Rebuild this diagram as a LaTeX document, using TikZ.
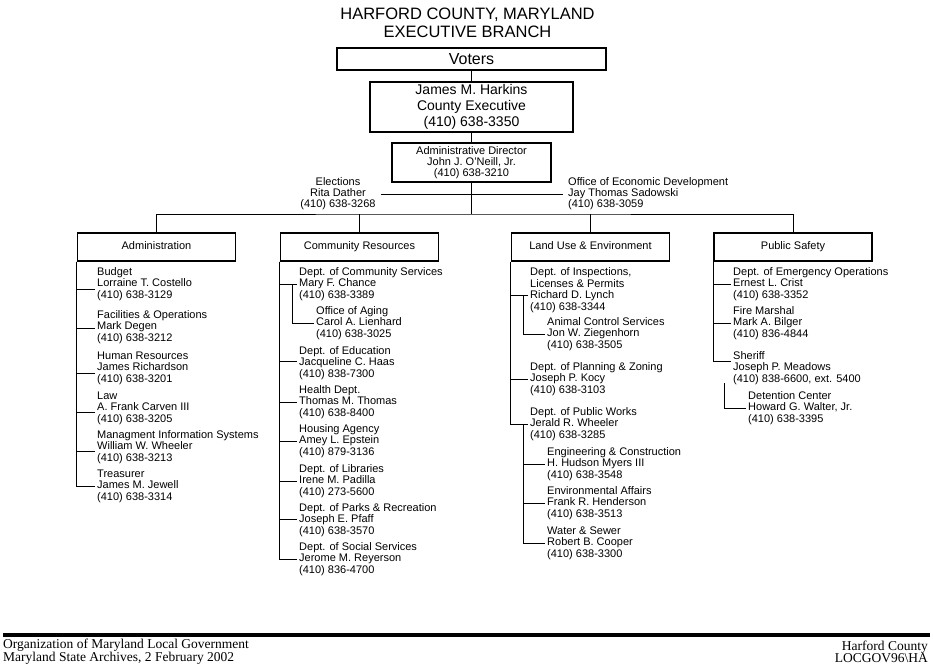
\documentclass[tikz,border=0pt]{standalone}
\usepackage{fontspec}
\setmainfont{Liberation Sans}
\newfontfamily\footfont{Liberation Serif}
\usetikzlibrary{positioning}

\begin{document}
\begin{tikzpicture}[
            x=1pt, y=-1pt,
            title/.style={align=center, font=\fontsize{16.5}{18}\selectfont},
            topbox/.style={draw, line width=1.6pt, minimum width=269pt, minimum height=22pt, inner sep=0pt, font=\fontsize{16}{18}\selectfont},
            execbox/.style={draw, line width=1.1pt, minimum width=203pt, minimum height=50pt, inner sep=0pt, align=center, font=\fontsize{14}{16}\selectfont},
            dirbox/.style={draw, line width=1.6pt, minimum width=159pt, minimum height=39pt, inner sep=0pt, align=center, font=\fontsize{11}{11}\selectfont},
            division/.style={draw, line width=1.6pt, minimum width=158pt, minimum height=28pt, inner sep=0pt, text height=8pt, text depth=2.5pt, font=\fontsize{11}{12}\selectfont},
            office/.style={inner sep=0pt, inner xsep=5pt, font=\fontsize{11}{11}\selectfont},
            entry/.style={anchor=west, align=left, inner sep=0pt, inner xsep=2pt, font=\fontsize{11}{11.5}\selectfont},
            footer/.style={inner sep=0pt, font=\footfont\fontsize{13.5}{12}\selectfont},
            link/.style={line width=0.8pt}
        ]
            \useasboundingbox (0,0) rectangle (933,668);

            % Title and top of the chart
            \node[title] (title) at (467.5,23) {HARFORD COUNTY, MARYLAND\\EXECUTIVE BRANCH};
            \node[topbox] (voters) at (471.5,59) {Voters};
            \node[execbox] (exec) at (471.5,107) {James M. Harkins\\County Executive\\(410) 638-3350};
            \node[dirbox] (director) at (471.5,162.5) {Administrative Director\\John J. O'Neill, Jr.\\(410) 638-3210};

            % Offices beside the director
            \node[office, align=center] (elections) at (338,194) {Elections\\Rita Dather\\(410) 638-3268};
            \node[office, align=left, anchor=west] (econdev) at (563,194) {Office of Economic Development\\Jay Thomas Sadowski\\(410) 638-3059};

            % Divisions
            \node[division] (admin) at (156.5,247) {Administration};
            \node[division] (community) at (359.5,247) {Community Resources};
            \node[division] (landuse) at (590.5,247) {Land Use \& Environment};
            \node[division] (safety) at (793,247) {Public Safety};
            \coordinate (bus) at (471.5,214);

            % Administration
            \node[entry] (budget) at (95,284) {Budget\\Lorraine T. Costello\\(410) 638-3129};
            \node[entry] (facilities) at (95,327) {Facilities \& Operations\\Mark Degen\\(410) 638-3212};
            \node[entry] (hr) at (95,368) {Human Resources\\James Richardson\\(410) 638-3201};
            \node[entry] (law) at (95,408) {Law\\A. Frank Carven III\\(410) 638-3205};
            \node[entry] (mis) at (95,447) {Managment Information Systems\\William W. Wheeler\\(410) 638-3213};
            \node[entry] (treasurer) at (95,486) {Treasurer\\James M. Jewell\\(410) 638-3314};

            % Community Resources
            \node[entry] (commsvc) at (297,284) {Dept. of Community Services\\Mary F. Chance\\(410) 638-3389};
            \node[entry] (aging) at (314,323) {Office of Aging\\Carol A. Lienhard\\(410) 638-3025};
            \node[entry] (education) at (297,363) {Dept. of Education\\Jacqueline C. Haas\\(410) 838-7300};
            \node[entry] (health) at (297,402) {Health Dept.\\Thomas M. Thomas\\(410) 638-8400};
            \node[entry] (housing) at (297,441) {Housing Agency\\Amey L. Epstein\\(410) 879-3136};
            \node[entry] (libraries) at (297,481) {Dept. of Libraries\\Irene M. Padilla\\(410) 273-5600};
            \node[entry] (parks) at (297,520) {Dept. of Parks \& Recreation\\Joseph E. Pfaff\\(410) 638-3570};
            \node[entry] (social) at (297,559) {Dept. of Social Services\\Jerome M. Reyerson\\(410) 836-4700};

            % Land Use & Environment
            \node[entry] (inspections) at (528,290) {Dept. of Inspections,\\Licenses \& Permits\\Richard D. Lynch\\(410) 638-3344};
            \node[entry] (animal) at (545,334) {Animal Control Services\\Jon W. Ziegenhorn\\(410) 638-3505};
            \node[entry] (planning) at (528,379) {Dept. of Planning \& Zoning\\Joseph P. Kocy\\(410) 638-3103};
            \node[entry] (works) at (528,424) {Dept. of Public Works\\Jerald R. Wheeler\\(410) 638-3285};
            \node[entry] (engineering) at (545,464) {Engineering \& Construction\\H. Hudson Myers III\\(410) 638-3548};
            \node[entry] (environment) at (545,503) {Environmental Affairs\\Frank R. Henderson\\(410) 638-3513};
            \node[entry] (water) at (545,543) {Water \& Sewer\\Robert B. Cooper\\(410) 638-3300};

            % Public Safety
            \node[entry] (emergency) at (731,284) {Dept. of Emergency Operations\\Ernest L. Crist\\(410) 638-3352};
            \node[entry] (fire) at (731,323) {Fire Marshal\\Mark A. Bilger\\(410) 836-4844};
            \node[entry] (sheriff) at (731,368) {Sheriff\\Joseph P. Meadows\\(410) 838-6600, ext. 5400};
            \node[entry] (detention) at (746,408) {Detention Center\\Howard G. Walter, Jr.\\(410) 638-3395};

            % Lines at the top
            \draw[link] (voters) -- (exec);
            \draw[link] (exec) -- (director);
            \draw[link] (director) -- (bus);
            \draw[link] (elections.east) -- (econdev.west);
            \draw[link] (admin.north) |- (bus) -| (safety.north);
            \draw[link] (community.north) -- (community.north |- bus);
            \draw[link] (landuse.north) -- (landuse.north |- bus);

            % Lines in Administration
            \draw[link] (admin.south west) |- ([yshift=-5pt]budget.west);
            \draw[link] (admin.south west) |- ([yshift=-1pt]facilities.west);
            \draw[link] (admin.south west) |- ([yshift=-5pt]hr.west);
            \draw[link] (admin.south west) |- ([yshift=-4pt]law.west);
            \draw[link] (admin.south west) |- ([yshift=-4pt]mis.west);
            \draw[link] (admin.south west) |- (treasurer.west);

            % Lines in Community Resources
            \draw[link] (community.south west) |- (commsvc.west);
            \draw[link] ([xshift=-5pt]commsvc.west) |- (aging.west);
            \draw[link] (community.south west) |- ([yshift=2pt]education.west);
            \draw[link] (community.south west) |- (health.west);
            \draw[link] (community.south west) |- (housing.west);
            \draw[link] (community.south west) |- (libraries.west);
            \draw[link] (community.south west) |- ([yshift=1pt]parks.west);
            \draw[link] (community.south west) |- (social.west);

            % Lines in Land Use & Environment
            \draw[link] (landuse.south west) |- ([yshift=-5pt]inspections.west);
            \draw[link] ([xshift=-5pt,yshift=-5pt]inspections.west) |- (animal.west);
            \draw[link] (landuse.south west) |- (planning.west);
            \draw[link] (landuse.south west) |- (works.west);
            \draw[link] ([xshift=-5pt]works.west) |- (engineering.west);
            \draw[link] ([xshift=-5pt]works.west) |- (environment.west);
            \draw[link] ([xshift=-5pt]works.west) |- (water.west);

            % Lines in Public Safety
            \draw[link] (safety.south west) |- (emergency.west);
            \draw[link] (safety.south west) |- (fire.west);
            \draw[link] (safety.south west) |- ([yshift=7pt]sheriff.west);
            \draw[link] ([xshift=-7pt,yshift=-15pt]sheriff.west) |- (detention.west);

            % Footer
            \coordinate (ruleleft) at (3,635);
            \coordinate (ruleright) at (930,635);
            \draw[line width=3.5pt] (ruleleft) -- (ruleright);
            \node[footer, anchor=west, align=left] (source) at (3,652) {Organization of Maryland Local Government\\Maryland State Archives, 2 February 2002};
            \node[footer, anchor=east, align=right] (code) at (928,652) {Harford County\\LOCGOV96\textbackslash HA};

        \end{tikzpicture}
\end{document}
